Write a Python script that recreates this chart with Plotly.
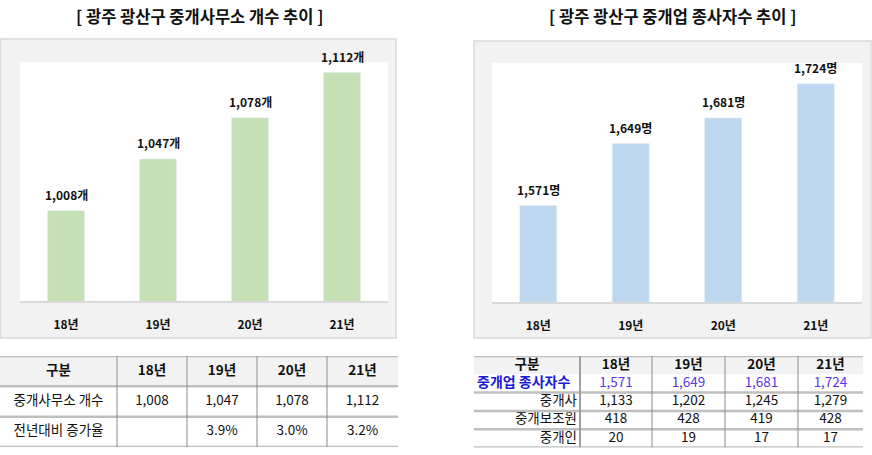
import plotly.graph_objects as go

# ---------------- data ----------------
categories = ['18년', '19년', '20년', '21년']
office_counts = [1008, 1047, 1078, 1112]
office_growth = ['', '3.9%', '3.0%', '3.2%']
worker_totals = [1571, 1649, 1681, 1724]
brokers = [1133, 1202, 1245, 1279]
assistants = [418, 428, 419, 428]
agents = [20, 19, 17, 17]

title_left = '[ 광주 광산구 중개사무소 개수 추이 ]'
title_right = '[ 광주 광산구 중개업 종사자수 추이 ]'
left_row_labels = ['구분', '중개사무소 개수', '전년대비 증가율']
right_row_labels = ['구분', '중개업 종사자수', '중개사', '중개보조원', '중개인']

# ---------------- layout constants ----------------
W, H = 872, 455
FONT = 'Noto Sans CJK KR, Noto Sans, sans-serif'
GREEN = '#c5e0b4'
BLUE = '#bdd7ee'
LBLUE = '#1a1ad8'
VBLUE = '#5a36ee'


def px(x):
    return x / W


def py(y):
    return (H - y) / H


fig = go.Figure()

# ---------------- bar charts ----------------
fig.add_trace(go.Bar(x=categories, y=office_counts, marker_color=GREEN, width=0.4,
                     xaxis='x', yaxis='y', hoverinfo='skip'))
fig.add_trace(go.Bar(x=categories, y=worker_totals, marker_color=BLUE, width=0.4,
                     xaxis='x2', yaxis='y2', hoverinfo='skip'))

annotations = []
for c, v in zip(categories, office_counts):
    annotations.append(dict(x=c, y=v, xref='x', yref='y', text=f'<b>{v:,}개</b>', showarrow=False,
                            yshift=16, font=dict(family=FONT, size=12, color='#111')))
for c, v in zip(categories, worker_totals):
    annotations.append(dict(x=c, y=v, xref='x2', yref='y2', text=f'<b>{v:,}명</b>', showarrow=False,
                            yshift=16, font=dict(family=FONT, size=12, color='#111')))

annotations.append(dict(x=px(199), y=py(16), xref='paper', yref='paper', text=f'<b>{title_left}</b>',
                        showarrow=False, xanchor='center', yanchor='middle',
                        font=dict(family=FONT, size=16.5, color='#111')))
annotations.append(dict(x=px(672), y=py(16), xref='paper', yref='paper', text=f'<b>{title_right}</b>',
                        showarrow=False, xanchor='center', yanchor='middle',
                        font=dict(family=FONT, size=16.5, color='#111')))

shapes = []
# chart frames
shapes.append(dict(type='rect', xref='paper', yref='paper', x0=px(0.5), x1=px(396), y0=py(338), y1=py(39),
                   fillcolor='#f2f2f2', line=dict(color='#d9d9d9', width=1.5), layer='below'))
shapes.append(dict(type='rect', xref='paper', yref='paper', x0=px(474), x1=px(871), y0=py(338), y1=py(41),
                   fillcolor='#f2f2f2', line=dict(color='#d9d9d9', width=1.5), layer='below'))
shapes.append(dict(type='rect', xref='x domain', yref='y domain', x0=0, x1=1, y0=0, y1=1,
                   fillcolor='white', line=dict(width=0), layer='below'))
shapes.append(dict(type='rect', xref='x2 domain', yref='y2 domain', x0=0, x1=1, y0=0, y1=1,
                   fillcolor='white', line=dict(width=0), layer='below'))

# ---------------- left table ----------------
L_EDGES = [0, 117, 187, 257, 327, 398]
l_centers = [(a + b) / 2 for a, b in zip(L_EDGES[:-1], L_EDGES[1:])]
left_rows = [
    [left_row_labels[0]] + categories,
    [left_row_labels[1]] + [f'{v:,}' for v in office_counts],
    [left_row_labels[2]] + office_growth,
]
shapes.append(dict(type='rect', xref='x3', yref='y3', x0=L_EDGES[0], x1=L_EDGES[-1], y0=0, y1=1,
                   fillcolor='#f2f2f2', line=dict(width=0), layer='below'))
for r, row in enumerate(left_rows):
    bold = r == 0
    fig.add_trace(go.Scatter(
        x=l_centers, y=[r + 0.5] * len(row), mode='text',
        text=[f'<b>{t}</b>' if bold else t for t in row],
        textposition='middle center',
        textfont=dict(family=FONT, size=13.5, color='#111'),
        xaxis='x3', yaxis='y3', hoverinfo='skip', showlegend=False, cliponaxis=False))
for r in range(len(left_rows) + 1):
    shapes.append(dict(type='line', xref='x3', yref='y3', x0=L_EDGES[0], x1=L_EDGES[-1], y0=r, y1=r,
                       line=dict(color='#bfbfbf', width=2.5)))
for e in L_EDGES[1:-1]:
    shapes.append(dict(type='line', xref='x3', yref='y3', x0=e, x1=e, y0=0, y1=len(left_rows),
                       line=dict(color='#8c8c8c', width=1)))

# ---------------- right table ----------------
R_EDGES = [0, 106, 178, 251, 324, 389]
r_centers = [(a + b) / 2 for a, b in zip(R_EDGES[:-1], R_EDGES[1:])]
value_rows = [worker_totals, brokers, assistants, agents]
shapes.append(dict(type='rect', xref='x4', yref='y4', x0=R_EDGES[0], x1=R_EDGES[-1], y0=0, y1=1,
                   fillcolor='#f2f2f2', line=dict(width=0), layer='below'))
# header
fig.add_trace(go.Scatter(
    x=r_centers, y=[0.5] * 5, mode='text',
    text=[f'<b>{t}</b>' for t in [right_row_labels[0]] + categories],
    textposition='middle center', textfont=dict(family=FONT, size=13.5, color='#111'),
    xaxis='x4', yaxis='y4', hoverinfo='skip', showlegend=False, cliponaxis=False))
for i, vals in enumerate(value_rows):
    r = i + 1
    is_total = i == 0
    # label
    fig.add_trace(go.Scatter(
        x=[R_EDGES[0] + 3] if is_total else [R_EDGES[1] - 3], y=[r + 0.5], mode='text',
        text=[f'<b>{right_row_labels[r]}</b>' if is_total else right_row_labels[r]],
        textposition='middle right' if is_total else 'middle left',
        textfont=dict(family=FONT, size=14 if is_total else 13.5, color=LBLUE if is_total else '#111'),
        xaxis='x4', yaxis='y4', hoverinfo='skip', showlegend=False, cliponaxis=False))
    fig.add_trace(go.Scatter(
        x=r_centers[1:], y=[r + 0.5] * 4, mode='text',
        text=[f'{v:,}' for v in vals], textposition='middle center',
        textfont=dict(family=FONT, size=13.5, color=VBLUE if is_total else '#111'),
        xaxis='x4', yaxis='y4', hoverinfo='skip', showlegend=False, cliponaxis=False))
for r in [0, 2, 3, 4, 5]:
    shapes.append(dict(type='line', xref='x4', yref='y4', x0=R_EDGES[0], x1=R_EDGES[-1], y0=r, y1=r,
                       line=dict(color='#bfbfbf', width=2.5)))
for j, e in enumerate(R_EDGES[1:-1]):
    shapes.append(dict(type='line', xref='x4', yref='y4', x0=e, x1=e, y0=0, y1=5,
                       line=dict(color='#a0a0a0' if j == 0 else '#8c8c8c', width=2 if j == 0 else 1)))

hidden = dict(visible=False, fixedrange=True)
cat_axis = dict(type='category', showline=True, linecolor='#d9d9d9', linewidth=1.5, ticks='',
                showgrid=False, zeroline=False, ticklabelstandoff=12, fixedrange=True,
                tickfont=dict(family=FONT, size=12, color='#111', weight='bold'))
val_axis = dict(showgrid=False, zeroline=False, showticklabels=False, showline=False, fixedrange=True)

fig.update_layout(
    width=W, height=H, margin=dict(l=0, r=0, t=0, b=0),
    paper_bgcolor='white', plot_bgcolor='rgba(0,0,0,0)', showlegend=False,
    xaxis=dict(domain=[px(20), px(388)], anchor='y', **cat_axis),
    yaxis=dict(domain=[py(301), py(62)], range=[940, 1120], anchor='x', **val_axis),
    xaxis2=dict(domain=[px(492), px(862)], anchor='y2', **cat_axis),
    yaxis2=dict(domain=[py(302), py(63)], range=[1450, 1750], anchor='x2', **val_axis),
    xaxis3=dict(domain=[px(0), px(398)], range=[0, 398], anchor='y3', **hidden),
    yaxis3=dict(domain=[py(447), py(356)], range=[3, 0], anchor='x3', **hidden),
    xaxis4=dict(domain=[px(474), px(863)], range=[0, 389], anchor='y4', **hidden),
    yaxis4=dict(domain=[py(447.5), py(356)], range=[5, 0], anchor='x4', **hidden),
    annotations=annotations, shapes=shapes,
)

fig.write_html('out.html', config={'displayModeBar': False, 'staticPlot': True},
               post_script="document.body.style.margin='0';document.body.style.overflow='hidden';")
